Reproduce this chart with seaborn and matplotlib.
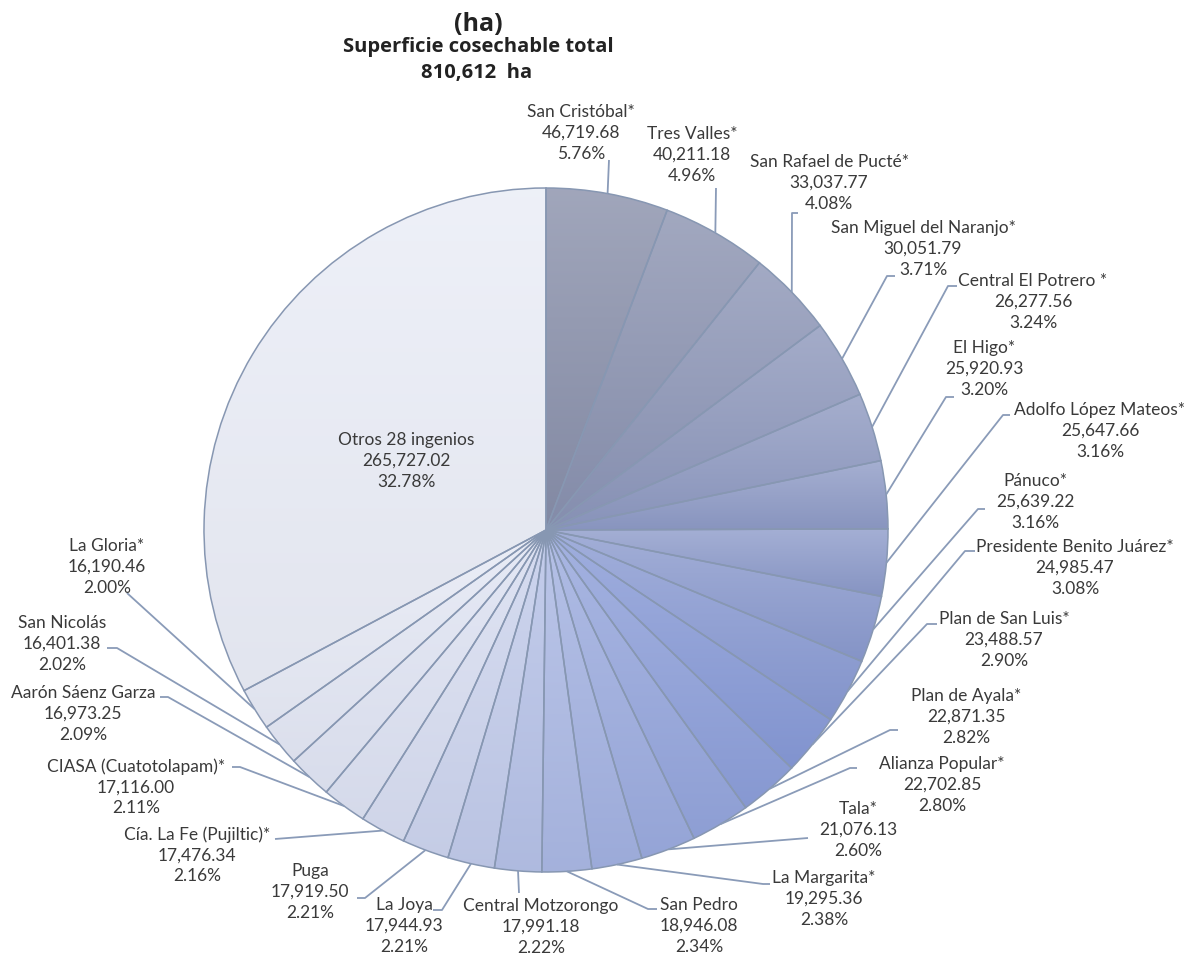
import numpy as np
import matplotlib
matplotlib.use("Agg")
import matplotlib.pyplot as plt
import seaborn as sns
from matplotlib.colors import to_rgb

# ---------------- data ----------------
categories = [
    "San Cristóbal*", "Tres Valles*", "San Rafael de Pucté*", "San Miguel del Naranjo*",
    "Central El Potrero *", "El Higo*", "Adolfo López Mateos*", "Pánuco*",
    "Presidente Benito Juárez*", "Plan de San Luis*", "Plan de Ayala*", "Alianza Popular*",
    "Tala*", "La Margarita*", "San Pedro", "Central Motzorongo", "La Joya", "Puga",
    "Cía. La Fe (Pujiltic)*", "CIASA (Cuatotolapam)*", "Aarón Sáenz Garza", "San Nicolás",
    "La Gloria*", "Otros 28 ingenios",
]
hectares = [
    46719.68, 40211.18, 33037.77, 30051.79, 26277.56, 25920.93, 25647.66, 25639.22,
    24985.47, 23488.57, 22871.35, 22702.85, 21076.13, 19295.36, 18946.08, 17991.18,
    17944.93, 17919.50, 17476.34, 17116.00, 16973.25, 16401.38, 16190.46, 265727.02,
]
title_lines = ["(ha)", "Superficie cosechable total"]

# ---------------- layout (pixels in the 1186x956 canvas) ----------------
W, H = 1186, 956
CX, CY, R = 546, 530, 342
# text centre x, middle-line y, leader elbow (x, y), tail end x
label_layout = [
    (581, 133, (609, 160), None),
    (692, 155, (716, 188), None),
    (829, 183, (792, 213), 798),
    (923, 249, (887, 276), 895),
    (1033, 302, (948, 286), 957),
    (984, 369, (946, 397), 954),
    (1100, 431, (1003, 415), 1010),
    (1035, 502, (978, 509), 985),
    (1075, 568, (965, 551), 975),
    (1004, 640, (927, 624), 937),
    (966, 717, (890, 730), 898),
    (942, 785, (850, 768), 857),
    (858, 830, (808, 838), None),
    (824, 899, (763, 884), 770),
    (699, 926, (648, 909), 657),
    (541, 927, (519, 893), None),
    (404, 926, (442, 910), 433),
    (310, 892, (365, 898), 357),
    (197, 855, (275, 839), None),
    (136, 787, (240, 767), 232),
    (83, 714, (168, 697), 160),
    (62, 644, (117, 648), 107),
    (107, 567, (127, 593), None),
    (406, 461, None, None),
]


def px(x, y):
    return (x - CX) / R, (CY - y) / R


sns.set_theme(style="white")
plt.rcParams["font.family"] = ["Lato", "DejaVu Sans"]

fig = plt.figure(figsize=(W / 100, H / 100), dpi=100)
ax = fig.add_axes([0, 0, 1, 1])

palette = sns.blend_palette(
    ["#868da8", "#8d99c3", "#8598d6", "#a7b5e2", "#dadff1", "#e9ecf6"],
    n_colors=len(hectares),
)

wedges, _ = ax.pie(
    hectares, colors=palette, startangle=90, counterclock=False, radius=1,
    wedgeprops=dict(edgecolor="#8797b2", linewidth=1.1),
)

white = np.array([1.0, 1.0, 1.0])
for w, base in zip(wedges, palette):
    base = np.array(to_rgb(base))
    verts = w.get_path().vertices
    x0, x1 = verts[:, 0].min(), verts[:, 0].max()
    y0, y1 = verts[:, 1].min(), verts[:, 1].max()
    top = base * 0.78 + white * 0.22
    bot = base * 0.97
    g = np.linspace(0, 1, 256)[:, None, None]
    img = top[None, None, :] * (1 - g) + bot[None, None, :] * g
    im = ax.imshow(img, extent=(x0, x1, y0, y1), origin="upper", aspect="auto",
                   zorder=1, interpolation="bilinear")
    im.set_clip_path(w)
    w.set_facecolor("none")
    w.set_zorder(2)

total = sum(hectares)
text_color = "#3a3a3a"
line_color = "#8a9bb8"
for w, name, val, (tx, ty, elbow, tail) in zip(wedges, categories, hectares, label_layout):
    pct = val / total * 100
    label = f"{name}\n{val:,.2f}\n{pct:.2f}%"
    x, y = px(tx, ty)
    ax.text(x, y, label, ha="center", va="center", fontsize=12.5, color=text_color,
            linespacing=1.36, zorder=5)
    if elbow is not None:
        ang = np.deg2rad((w.theta1 + w.theta2) / 2)
        ex, ey = w.center[0] + w.r * np.cos(ang), w.center[1] + w.r * np.sin(ang)
        bx, by = px(*elbow)
        xs, ys = [ex, bx], [ey, by]
        if tail is not None:
            xs.append(px(tail, elbow[1])[0])
            ys.append(by)
        ax.plot(xs, ys, color=line_color, lw=1.3, zorder=4, solid_capstyle="butt")

# titles
title_font = ["Open Sans", "DejaVu Sans"]
ax.text(*px(478, 24), title_lines[0], ha="center", va="center", fontsize=18,
        fontweight="bold", color="#222222", family=title_font)
ax.text(*px(478, 47), title_lines[1], ha="center", va="center", fontsize=14.5,
        fontweight="bold", color="#222222", family=title_font)
ax.text(*px(477, 73), f"{round(total):,}  ha", ha="center", va="center", fontsize=14.5,
        fontweight="bold", color="#222222", family=title_font)

ax.set_xlim(-CX / R, (W - CX) / R)
ax.set_ylim(-(H - CY) / R, CY / R)
ax.set_aspect("auto")
ax.axis("off")

fig.savefig("out.png", dpi=100, facecolor="white")
